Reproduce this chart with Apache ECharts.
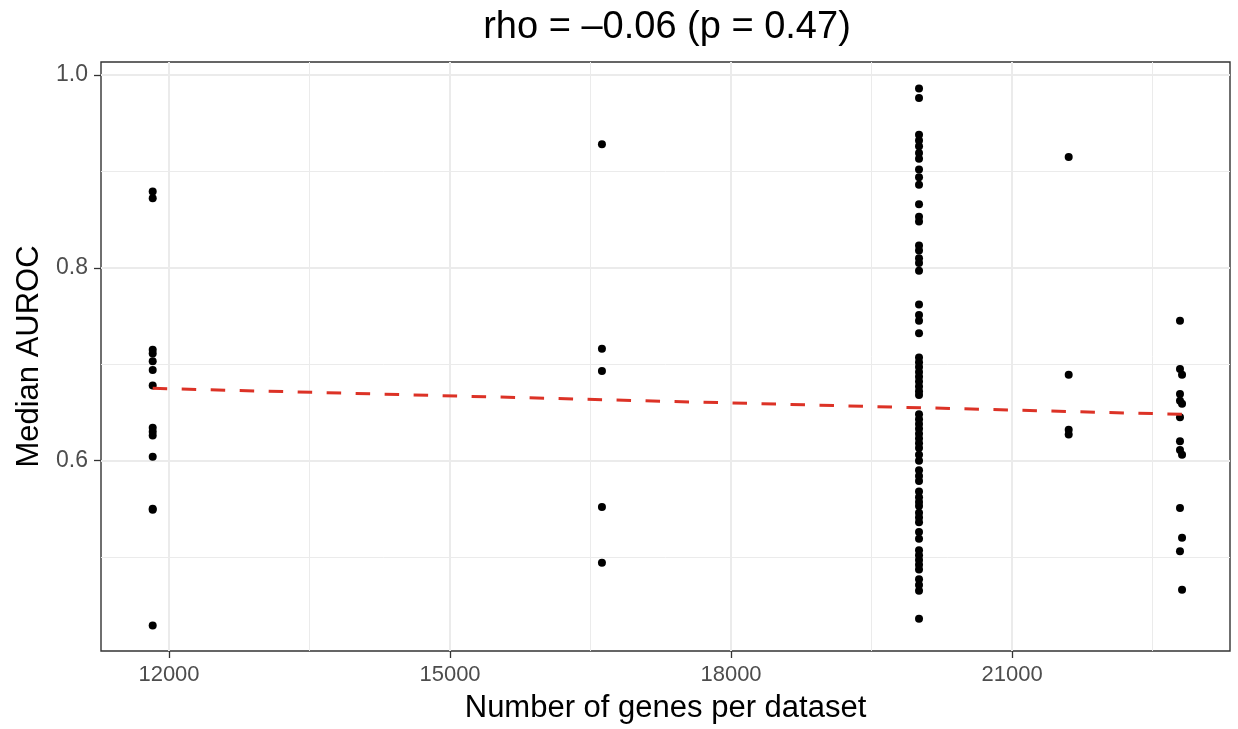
<!DOCTYPE html>
<html><head><meta charset="utf-8">
<script src="https://cdn.jsdelivr.net/npm/echarts@6/dist/echarts.min.js"></script>
<style>html,body{margin:0;padding:0;background:#fff}#c{width:1238px;height:729px}</style>
</head><body><div id="c"></div>
<script>
// ---- data ----
const xTicks = [12000, 15000, 18000, 21000];
const xMinor = [13500, 16500, 19500, 22500];
const yTicks = [0.6, 0.8, 1.0];
const yMinor = [0.5, 0.7, 0.9];
const xRange = [11274, 23327];
const yRange = [0.4026, 1.0134];

const genes = [11826, 16622, 20007, 21605, 22793, 22815];
const auroc_g1 = [0.879, 0.872, 0.715, 0.711, 0.703, 0.694, 0.678, 0.634, 0.630, 0.626, 0.604, 0.550, 0.549, 0.429];
const auroc_g2 = [0.928, 0.716, 0.693, 0.552, 0.494];
const auroc_g3 = [0.986, 0.976, 0.938, 0.932, 0.926, 0.919, 0.913, 0.902, 0.894, 0.886, 0.866, 0.853, 0.848,
  0.823, 0.818, 0.810, 0.805, 0.797, 0.762, 0.751, 0.745, 0.732, 0.707, 0.702, 0.697, 0.692, 0.687, 0.682,
  0.677, 0.672, 0.668, 0.648, 0.643, 0.638, 0.633, 0.628, 0.623, 0.618, 0.613, 0.606, 0.600, 0.590, 0.584,
  0.579, 0.568, 0.562, 0.557, 0.553, 0.546, 0.541, 0.536, 0.526, 0.519, 0.507, 0.502, 0.497, 0.492, 0.487,
  0.477, 0.471, 0.465, 0.436];
const auroc_g4 = [0.915, 0.689, 0.632, 0.627];
const auroc_g5 = [0.745, 0.695, 0.669, 0.662, 0.645, 0.620, 0.611, 0.551, 0.506];
const auroc_g6 = [0.689, 0.659, 0.606, 0.520, 0.466];
const fitX = [11826, 22815];
const fitY = [0.675, 0.648];

const groups = [auroc_g1, auroc_g2, auroc_g3, auroc_g4, auroc_g5, auroc_g6];
const points = [];
groups.forEach((g, i) => g.forEach(v => points.push([genes[i], v])));
const fitData = fitX.map((x, i) => [x, fitY[i]]);

const FONT = '"Liberation Sans", Arial, Helvetica, sans-serif';
const chart = echarts.init(document.getElementById('c'), null, {renderer: 'canvas'});
const gridLine = (axis, vals, w) => vals.map(v => ({[axis]: v, lineStyle: {color: '#ebebeb', width: w, type: 'solid'}}));

chart.setOption({
  animation: false,
  backgroundColor: '#ffffff',
  title: {
    text: 'rho = \u20130.06 (p = 0.47)',
    left: 662, top: 4, textAlign: 'center',
    textStyle: {fontFamily: FONT, fontSize: 38, fontWeight: 'normal', color: '#000'}
  },
  grid: {left: 101, right: 8, top: 62, bottom: 77, show: true, borderColor: '#333333', borderWidth: 1.4, backgroundColor: 'transparent'},
  xAxis: {
    type: 'value', min: xRange[0], max: xRange[1],
    name: 'Number of genes per dataset', nameLocation: 'middle', nameGap: 42,
    nameTextStyle: {fontFamily: FONT, fontSize: 31, color: '#000'},
    axisLine: {show: false},
    axisTick: {show: true, length: 7, inside: false, customValues: xTicks, lineStyle: {color: '#333333', width: 1.3}},
    axisLabel: {customValues: xTicks, margin: 13, fontFamily: FONT, fontSize: 22, color: '#4d4d4d', formatter: v => String(v)},
    splitLine: {show: false}, minorSplitLine: {show: false}
  },
  yAxis: {
    type: 'value', min: yRange[0], max: yRange[1],
    name: 'Median AUROC', nameLocation: 'middle', nameGap: 53, nameRotate: 90,
    nameTextStyle: {fontFamily: FONT, fontSize: 31, color: '#000'},
    axisLine: {show: false},
    axisTick: {show: true, length: 7, inside: false, customValues: yTicks, lineStyle: {color: '#333333', width: 1.3}},
    axisLabel: {customValues: yTicks, margin: 13, fontFamily: FONT, fontSize: 23, color: '#4d4d4d', formatter: v => v.toFixed(1)},
    splitLine: {show: false}
  },
  series: [
    {
      type: 'line', data: [], silent: true,
      markLine: {
        silent: true, symbol: ['none', 'none'], z: 0, animation: false,
        label: {show: false},
        data: [].concat(gridLine('xAxis', xMinor, 1), gridLine('yAxis', yMinor, 1),
                        gridLine('xAxis', xTicks, 2), gridLine('yAxis', yTicks, 2))
      }
    },
    {
      type: 'scatter', data: points, symbol: 'circle', symbolSize: 8, z: 3,
      itemStyle: {color: '#000000', opacity: 1}, silent: true
    },
    {
      type: 'line', data: fitData, symbol: 'none', z: 4, silent: true,
      lineStyle: {color: '#dc3226', width: 3, type: [14.5, 14.5]}
    }
  ]
});
</script>
</body></html>
